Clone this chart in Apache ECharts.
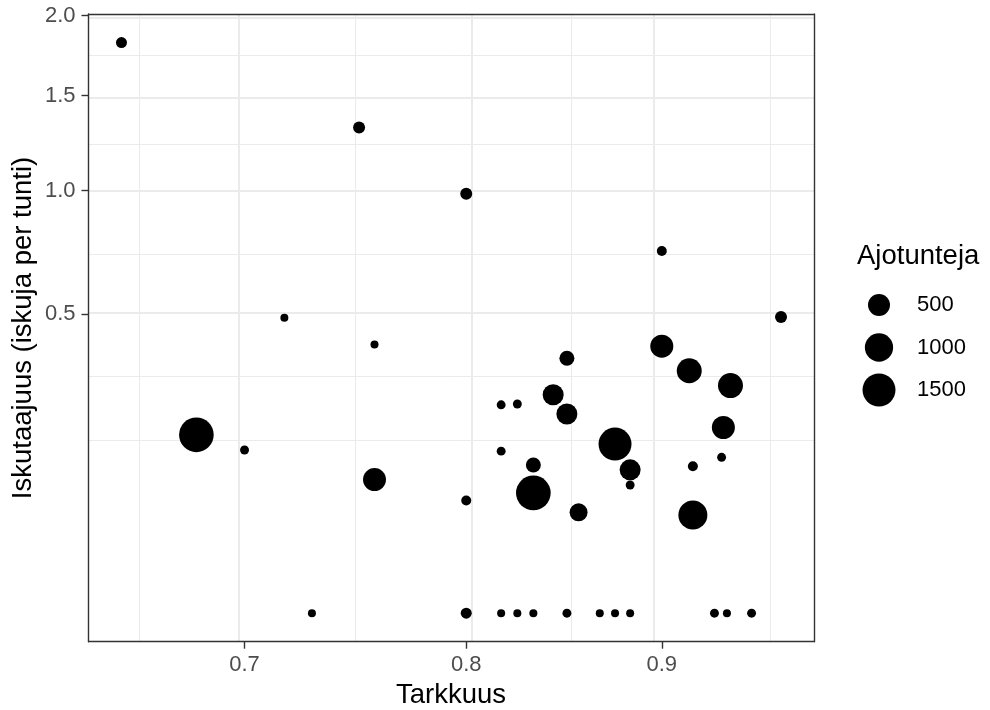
<!DOCTYPE html>
<html>
<head>
<meta charset="utf-8">
<script src="https://cdn.jsdelivr.net/npm/echarts@6/dist/echarts.min.js"></script>
<style>
html,body{margin:0;padding:0;background:#fff;}
#c{width:990px;height:710px;}
</style>
</head>
<body>
<div id="c"></div>
<script>
// ---- data ----
const accuracy = [0.650, 0.750, 0.800, 0.900, 0.717, 0.967, 0.757, 0.850, 0.900, 0.915,
                  0.938, 0.843, 0.850, 0.817, 0.825, 0.934, 0.680, 0.875, 0.700, 0.817,
                  0.933, 0.833, 0.917, 0.883, 0.883, 0.757, 0.833, 0.800, 0.856, 0.917,
                  0.729, 0.800, 0.817, 0.825, 0.833, 0.850, 0.867, 0.875, 0.883, 0.929,
                  0.936, 0.950];
const strikeRate = [1.823, 1.321, 0.985, 0.734, 0.489, 0.491, 0.404, 0.364, 0.399, 0.329,
                    0.290, 0.267, 0.222, 0.243, 0.245, 0.193, 0.178, 0.160, 0.149, 0.147,
                    0.136, 0.123, 0.121, 0.115, 0.092, 0.100, 0.081, 0.071, 0.057, 0.054,
                    0, 0, 0, 0, 0, 0, 0, 0, 0, 0,
                    0, 0];
const hours = [64, 80, 80, 52, 43, 80, 43, 157, 568, 717,
               717, 437, 437, 45, 45, 568, 1700, 1500, 45, 45,
               45, 157, 52, 437, 45, 568, 1700, 52, 276, 1072,
               43, 64, 43, 43, 43, 45, 43, 43, 43, 45,
               43, 45];
const xTickValues = [0.7, 0.8, 0.9];
const yTickValues = [0.5, 1.0, 1.5, 2.0];
const legendBreaks = [500, 1000, 1500];
const xTitle = 'Tarkkuus';
const yTitle = 'Iskutaajuus (iskuja per tunti)';
const sizeTitle = 'Ajotunteja';

// ---- scales ----
const FONT = '"Liberation Sans", Arial, Helvetica, sans-serif';
const tx = Math.log, ty = Math.sqrt;
const SIZE_LO = 43, SIZE_HI = 1743;
function sizeFn(v) {
  const t = Math.max(0, Math.min(1, (v - SIZE_LO) / (SIZE_HI - SIZE_LO)));
  return 8 + 27 * Math.sqrt(t);
}
function expandRange(vals) {
  const lo = Math.min(...vals), hi = Math.max(...vals), d = (hi - lo) * 0.05;
  return [lo - d, hi + d];
}
const [xLo, xHi] = expandRange(accuracy.map(tx));
const [yLo, yHi] = expandRange(strikeRate.map(ty));
const xMaj = xTickValues.map(tx);
const yMaj = yTickValues.map(ty);
function minorBreaks(b, lo, hi) {
  const bd = b[1] - b[0];
  const ext = b.slice();
  if (lo < ext[0]) ext.unshift(ext[0] - bd);
  if (hi > ext[ext.length - 1]) ext.push(ext[ext.length - 1] + bd);
  const out = [];
  for (let i = 0; i < ext.length - 1; i++) { out.push(ext[i], (ext[i] + ext[i + 1]) / 2); }
  out.push(ext[ext.length - 1]);
  return out.filter(v => v >= lo && v <= hi && !b.some(m => Math.abs(m - v) < 1e-9));
}
const xMin = minorBreaks(xMaj, xLo, xHi);
const yMin = minorBreaks(yMaj, yLo, yHi);

const GRID = '#EBEBEB';
const gridLines = []
  .concat(xMin.map(v => ({ xAxis: v, lineStyle: { color: GRID, width: 1, type: 'solid' } })))
  .concat(yMin.map(v => ({ yAxis: v, lineStyle: { color: GRID, width: 1, type: 'solid' } })))
  .concat(xMaj.map(v => ({ xAxis: v, lineStyle: { color: GRID, width: 2, type: 'solid' } })))
  .concat(yMaj.map(v => ({ yAxis: v, lineStyle: { color: GRID, width: 2, type: 'solid' } })));

const points = accuracy.map((a, i) => [tx(a), ty(strikeRate[i]), hours[i]]);

const border = { show: true, onZero: false, lineStyle: { color: '#333333', width: 1.4 } };
const chart = echarts.init(document.getElementById('c'), null, { renderer: 'canvas' });

const legendY = [305, 347.5, 390];
const graphic = [
  { type: 'text', x: 451, y: 695, style: { text: xTitle, fontSize: 27.5, fontFamily: FONT, fill: '#000',
      textAlign: 'center', textVerticalAlign: 'middle', align: 'center', verticalAlign: 'middle' } },
  { type: 'text', x: 23, y: 328, rotation: Math.PI / 2, style: { text: yTitle, fontSize: 27.5, fontFamily: FONT, fill: '#000',
      textAlign: 'center', textVerticalAlign: 'middle', align: 'center', verticalAlign: 'middle' } },
  { type: 'text', x: 857, y: 256, style: { text: sizeTitle, fontSize: 27.5, fontFamily: FONT, fill: '#000',
      textAlign: 'left', textVerticalAlign: 'middle', align: 'left', verticalAlign: 'middle' } }
];
legendBreaks.forEach((b, i) => {
  graphic.push({ type: 'circle', shape: { cx: 879, cy: legendY[i], r: sizeFn(b) / 2 }, style: { fill: '#000' } });
  graphic.push({ type: 'text', x: 917, y: legendY[i], style: { text: String(b), fontSize: 22, fontFamily: FONT, fill: '#000',
      textAlign: 'left', textVerticalAlign: 'middle', align: 'left', verticalAlign: 'middle' } });
});

chart.setOption({
  animation: false,
  backgroundColor: '#ffffff',
  grid: { left: 88.5, right: 176, top: 14, bottom: 68.3, show: false, containLabel: false },
  xAxis: [
    { type: 'value', min: xLo, max: xHi, position: 'bottom', z: 10,
      axisLine: border,
      axisTick: { show: true, customValues: xMaj, length: 7, lineStyle: { color: '#333333', width: 1.4 } },
      axisLabel: { show: true, customValues: xMaj, formatter: v => Math.exp(v).toFixed(1),
        color: '#4D4D4D', fontSize: 22, fontFamily: FONT, margin: 12 },
      splitLine: { show: false } },
    { type: 'value', min: xLo, max: xHi, position: 'top', z: 10,
      axisLine: border, axisTick: { show: false }, axisLabel: { show: false }, splitLine: { show: false } }
  ],
  yAxis: [
    { type: 'value', min: yLo, max: yHi, position: 'left', z: 10,
      axisLine: border,
      axisTick: { show: true, customValues: yMaj, length: 7, lineStyle: { color: '#333333', width: 1.4 } },
      axisLabel: { show: true, customValues: yMaj, formatter: v => (v * v).toFixed(1),
        color: '#4D4D4D', fontSize: 22, fontFamily: FONT, margin: 13 },
      splitLine: { show: false } },
    { type: 'value', min: yLo, max: yHi, position: 'right', z: 10,
      axisLine: border, axisTick: { show: false }, axisLabel: { show: false }, splitLine: { show: false } }
  ],
  series: [{
    type: 'scatter',
    xAxisIndex: 0, yAxisIndex: 0,
    data: points,
    symbol: 'circle',
    symbolSize: val => sizeFn(val[2]),
    itemStyle: { color: '#000000', opacity: 1 },
    silent: true,
    z: 3,
    markLine: {
      silent: true, z: 1, animation: false,
      symbol: ['none', 'none'],
      label: { show: false },
      emphasis: { disabled: true },
      data: gridLines
    }
  }],
  graphic: graphic
});
</script>
</body>
</html>
